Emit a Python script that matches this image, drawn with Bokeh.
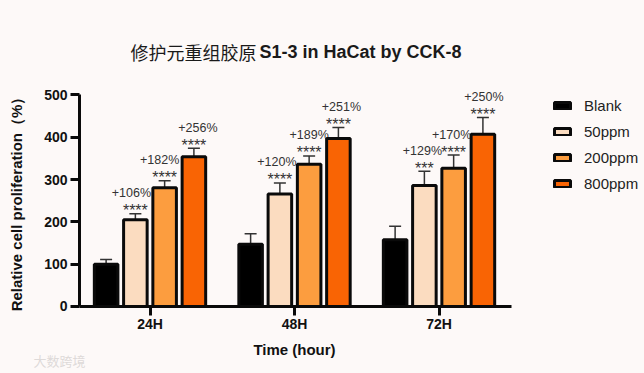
import math
from bokeh.plotting import figure
from bokeh.models import ColumnDataSource, Whisker, TeeHead, Label, Legend, LegendItem, FixedTicker
from bokeh.embed import file_html
from bokeh.resources import INLINE
from bokeh.core.properties import value

times = ["24H", "48H", "72H"]
series = ["Blank", "50ppm", "200ppm", "800ppm"]
colors = ["#000000", "#fbdcc0", "#fc9d3f", "#f96404"]
blank = [100, 147, 158]
ppm50 = [205, 266, 286]
ppm200 = [281, 336, 327]
ppm800 = [354, 397, 407]
blank_top = [111, 172, 190]
ppm50_top = [219, 292, 320]
ppm200_top = [297, 356, 358]
ppm800_top = [374, 423, 447]
pct50 = ["+106%", "+120%", "+129%"]
pct200 = ["+182%", "+189%", "+170%"]
pct800 = ["+256%", "+251%", "+250%"]
stars50 = ["****", "****", "***"]
stars200 = ["****", "****", "****"]
stars800 = ["****", "****", "****"]
pct_shift50 = [-4, -3, -2]
pct_shift200 = [-5, 0, -2]
pct_shift800 = [4, 3, 1]

FONT = "Liberation Sans"
BG = "#fdf9f8"
INK = "#111111"
W, H = 644, 373
AXIS_X = -0.488

p = figure(width=W, height=H, output_backend="svg", toolbar_location=None,
           x_range=(-1.0346, 3.422), y_range=(-158.4, 723.4),
           min_border_left=0, min_border_right=0, min_border_top=0, min_border_bottom=0,
           background_fill_color=BG, border_fill_color=BG, outline_line_color=None)
p.grid.visible = False

values = [blank, ppm50, ppm200, ppm800]
tops = [blank_top, ppm50_top, ppm200_top, ppm800_top]
pcts = [None, pct50, pct200, pct800]
stars = [None, stars50, stars200, stars800]
shifts = [None, pct_shift50, pct_shift200, pct_shift800]
pitch = 0.2025
items = []
for i, name in enumerate(series):
    xs = [g + (i - 1.5) * pitch for g in range(len(times))]
    src = ColumnDataSource(dict(x=xs, top=values[i], err=tops[i]))
    w = Whisker(source=src, base="x", lower="top", upper="err", dimension="height",
                line_color="#333333", line_width=1.5,
                upper_head=TeeHead(size=12, line_color="#333333", line_width=1.5), lower_head=None)
    p.add_layout(w)
    r = p.vbar(x="x", top="top", bottom=0, width=0.163, source=src,
               fill_color=colors[i], line_color="#0a0a0a", line_width=3)
    items.append(LegendItem(label=name, renderers=[r]))
    if pcts[i]:
        lab = ColumnDataSource(dict(x=xs, y=tops[i], pct=pcts[i], star=stars[i], dx=shifts[i]))
        p.text(x="x", y="y", text="star", source=lab, text_align="center", text_baseline="middle",
               y_offset=-3, text_font=value(FONT), text_font_size="16px", text_color="#333333")
        p.text(x="x", y="y", text="pct", source=lab, text_align="center", text_baseline="middle",
               x_offset="dx", y_offset=-20.5, text_font=value(FONT), text_font_size="12.5px", text_color="#333333")

legend = Legend(items=items, location=(552, 181.5), background_fill_alpha=0, border_line_color=None,
                glyph_width=20, glyph_height=9, spacing=9, padding=0, margin=0, label_standoff=12,
                label_text_font=FONT, label_text_font_size="15px", label_text_color="#222222",
                label_height=10)
p.add_layout(legend, "center")

for ax in (p.xaxis[0], p.yaxis[0]):
    ax.axis_line_width = 3
    ax.axis_line_color = "#0a0a0a"
    ax.major_tick_line_width = 3
    ax.major_tick_line_color = "#0a0a0a"
    ax.major_tick_out = 9
    ax.major_tick_in = 0
    ax.minor_tick_line_color = None
    ax.major_label_text_font = FONT
    ax.major_label_text_font_style = "bold"
    ax.major_label_text_font_size = "14px"
    ax.major_label_text_color = INK

p.xaxis[0].ticker = FixedTicker(ticks=list(range(len(times))))
p.xaxis[0].major_label_overrides = {i: t for i, t in enumerate(times)}
p.xaxis[0].major_label_standoff = 1
p.xaxis[0].bounds = (AXIS_X, 2.502)
p.xaxis[0].fixed_location = 0
p.yaxis[0].ticker = FixedTicker(ticks=[0, 100, 200, 300, 400, 500])
p.yaxis[0].major_label_standoff = 3
p.yaxis[0].bounds = (0, 500)
p.yaxis[0].fixed_location = AXIS_X


def label(text, px, py, **kw):
    kw.setdefault("text_font", FONT)
    kw.setdefault("text_baseline", "middle")
    p.add_layout(Label(x=px, y=H - py, x_units="screen", y_units="screen", text=text, **kw))


label("修护元重组胶原", 130, 51, text_font="Noto Sans CJK SC", text_font_size="18px", text_color="#1a1a1a")
label("S1-3 in HaCat by CCK-8", 259, 51, text_font_style="bold", text_font_size="18px", text_color="#1a1a1a")
label("Time (hour)", 294, 349, text_font_style="bold", text_font_size="15px", text_color=INK, text_align="center")
label("Relative cell proliferation（%）", 16, 200, text_font_style="bold", text_font_size="15px", text_color=INK,
      text_align="center", angle=math.pi / 2)
label("大数跨境", 33, 360, text_font="Noto Sans CJK SC", text_font_size="13px", text_color="#dedad9")

html = file_html(p, INLINE)
html = html.replace("<body>", f'<body style="background:{BG}">')
open("out.html", "w").write(html)
